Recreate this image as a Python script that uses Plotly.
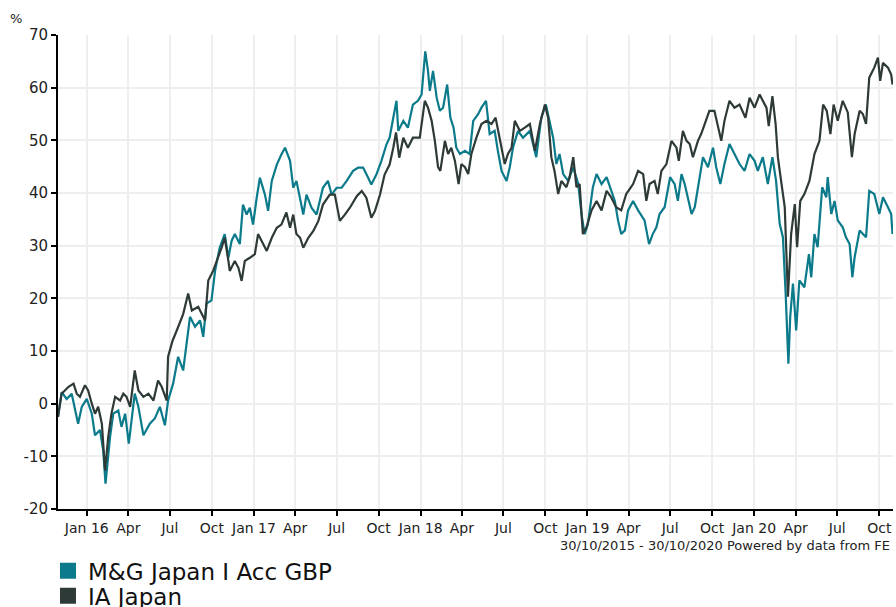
import plotly.graph_objects as go

# ---------------- data ----------------
mg_dates = [
    "2015-10-30", "2015-11-07", "2015-11-18", "2015-11-29", "2015-12-13", "2015-12-21", "2016-01-01",
    "2016-01-12", "2016-01-19", "2016-01-30", "2016-02-06", "2016-02-11", "2016-02-21", "2016-02-28",
    "2016-03-10", "2016-03-17", "2016-03-25", "2016-04-02", "2016-04-15", "2016-04-23", "2016-05-04",
    "2016-05-18", "2016-05-29", "2016-06-09", "2016-06-20", "2016-06-27", "2016-07-08", "2016-07-19",
    "2016-07-30", "2016-08-07", "2016-08-14", "2016-08-25", "2016-09-05", "2016-09-12", "2016-09-19",
    "2016-09-30", "2016-10-08", "2016-10-18", "2016-10-29", "2016-11-06", "2016-11-13", "2016-11-20",
    "2016-12-01", "2016-12-08", "2016-12-16", "2016-12-23", "2016-12-30", "2017-01-07", "2017-01-14",
    "2017-01-25", "2017-02-01", "2017-02-09", "2017-02-20", "2017-03-02", "2017-03-10", "2017-03-21",
    "2017-03-28", "2017-04-04", "2017-04-12", "2017-04-19", "2017-04-26", "2017-05-07", "2017-05-18",
    "2017-05-25", "2017-06-01", "2017-06-12", "2017-06-20", "2017-07-01", "2017-07-12", "2017-07-23",
    "2017-08-06", "2017-08-17", "2017-08-28", "2017-09-08", "2017-09-15", "2017-09-26", "2017-10-07",
    "2017-10-18", "2017-10-25", "2017-11-02", "2017-11-09", "2017-11-13", "2017-11-24", "2017-12-04",
    "2017-12-15", "2017-12-26", "2018-01-03", "2018-01-11", "2018-01-17", "2018-01-21", "2018-01-28",
    "2018-02-05", "2018-02-12", "2018-02-19", "2018-02-28", "2018-03-07", "2018-03-14", "2018-03-20",
    "2018-03-28", "2018-04-08", "2018-04-18", "2018-04-26", "2018-05-07", "2018-05-14", "2018-05-24",
    "2018-06-01", "2018-06-12", "2018-06-19", "2018-06-27", "2018-07-08", "2018-07-15", "2018-07-22",
    "2018-08-02", "2018-08-13", "2018-08-28", "2018-09-11", "2018-09-22", "2018-10-02", "2018-10-10",
    "2018-10-18", "2018-10-25", "2018-11-01", "2018-11-09", "2018-11-20", "2018-12-01", "2018-12-12",
    "2018-12-19", "2018-12-26", "2019-01-02", "2019-01-13", "2019-01-21", "2019-02-01", "2019-02-12",
    "2019-02-19", "2019-03-02", "2019-03-09", "2019-03-16", "2019-03-24", "2019-03-31", "2019-04-11",
    "2019-04-22", "2019-05-06", "2019-05-16", "2019-05-24", "2019-06-01", "2019-06-08", "2019-06-19",
    "2019-07-01", "2019-07-11", "2019-07-18", "2019-07-26", "2019-08-02", "2019-08-09", "2019-08-17",
    "2019-08-24", "2019-08-31", "2019-09-11", "2019-09-22", "2019-10-03", "2019-10-10", "2019-10-19",
    "2019-10-28", "2019-11-08", "2019-11-19", "2019-11-30", "2019-12-11", "2019-12-22", "2020-01-02",
    "2020-01-09", "2020-01-20", "2020-01-31", "2020-02-10", "2020-02-18", "2020-02-26", "2020-03-04",
    "2020-03-10", "2020-03-16", "2020-03-20", "2020-03-26", "2020-04-02", "2020-04-09", "2020-04-20",
    "2020-04-30", "2020-05-05", "2020-05-12", "2020-05-19", "2020-05-29", "2020-06-07", "2020-06-10",
    "2020-06-18", "2020-06-25", "2020-07-02", "2020-07-13", "2020-07-20", "2020-07-28", "2020-08-03",
    "2020-08-08", "2020-08-19", "2020-08-26", "2020-09-02", "2020-09-09", "2020-09-20", "2020-10-01",
    "2020-10-09", "2020-10-20", "2020-10-27", "2020-10-30",
]
mg_values = [
    -2.5, 2.2, 0.9, 1.9, -3.8, -0.6, 0.9,
    -1.9, -6.0, -5.0, -8.9, -15.2, -6.3, -1.9,
    -1.3, -4.4, -1.9, -7.6, 1.9, -0.6, -6.0,
    -3.8, -2.8, -0.6, -4.1, 0.6, 3.8, 8.9,
    6.3, 12.0, 16.5, 14.6, 15.8, 12.7, 19.0,
    19.6, 25.3, 29.6, 32.2, 27.7, 30.9, 32.2,
    30.3, 37.8, 35.9, 37.2, 34.0, 39.1, 42.9,
    39.7, 36.6, 42.3, 45.4, 47.3, 48.6, 46.1,
    41.0, 42.3, 38.5, 35.9, 39.7, 37.2, 35.9,
    38.5, 41.0, 42.3, 39.7, 41.0, 41.0, 42.3,
    44.2, 44.8, 44.8, 42.9, 41.6, 43.5, 46.1,
    49.2, 50.5, 54.3, 57.5, 51.8, 53.7, 52.4,
    56.8, 57.5, 58.7, 66.9, 63.2, 59.4, 63.2,
    58.1, 55.6, 56.2, 60.6, 54.3, 52.4, 48.6,
    47.4, 48.0, 47.4, 53.7, 55.0, 56.2, 57.5,
    51.2, 51.8, 48.0, 44.2, 42.3, 44.9, 48.6,
    51.8, 50.5, 51.8, 46.8, 54.3, 56.8, 53.7,
    50.5, 45.5, 47.4, 43.6, 42.3, 44.9, 41.7,
    36.0, 32.2, 34.1, 41.1, 43.6, 41.7, 43.0,
    41.1, 38.5, 34.8, 32.2, 32.9, 36.7, 38.5,
    36.7, 34.8, 30.3, 32.2, 33.5, 36.0, 37.3,
    43.0, 41.7, 38.5, 43.6, 41.7, 39.2, 36.0,
    37.3, 41.1, 46.8, 44.9, 48.6, 44.9, 41.7,
    45.5, 49.3, 47.4, 45.5, 44.2, 47.4, 46.1,
    44.2, 46.8, 41.7, 46.8, 42.3, 34.1, 31.6,
    20.9, 7.6, 16.5, 22.8, 13.9, 23.4, 22.1,
    28.4, 24.0, 32.2, 29.7, 41.1, 39.2, 43.0,
    36.0, 38.5, 34.8, 33.5, 31.6, 30.3, 24.0,
    27.8, 32.9, 32.2, 31.6, 40.4, 39.8, 36.0,
    39.2, 37.3, 36.0, 32.2,
]

ia_dates = [
    "2015-10-30", "2015-11-07", "2015-11-22", "2015-12-03", "2015-12-10", "2015-12-17", "2015-12-28",
    "2016-01-04", "2016-01-12", "2016-01-19", "2016-01-26", "2016-02-03", "2016-02-10", "2016-02-17",
    "2016-02-24", "2016-03-03", "2016-03-14", "2016-03-21", "2016-03-28", "2016-04-05", "2016-04-15",
    "2016-04-23", "2016-05-04", "2016-05-15", "2016-05-26", "2016-06-05", "2016-06-13", "2016-06-24",
    "2016-06-27", "2016-07-07", "2016-07-16", "2016-07-30", "2016-08-10", "2016-08-18", "2016-09-01",
    "2016-09-12", "2016-09-16", "2016-09-23", "2016-10-04", "2016-10-22", "2016-10-29", "2016-11-06",
    "2016-11-09", "2016-11-20", "2016-11-28", "2016-12-05", "2016-12-12", "2016-12-23", "2017-01-03",
    "2017-01-10", "2017-01-21", "2017-01-29", "2017-02-09", "2017-02-20", "2017-03-02", "2017-03-13",
    "2017-03-21", "2017-03-28", "2017-04-04", "2017-04-12", "2017-04-19", "2017-04-30", "2017-05-11",
    "2017-05-22", "2017-06-01", "2017-06-16", "2017-06-27", "2017-07-08", "2017-07-19", "2017-07-30",
    "2017-08-14", "2017-08-25", "2017-09-04", "2017-09-15", "2017-09-23", "2017-10-04", "2017-10-14",
    "2017-10-25", "2017-11-02", "2017-11-08", "2017-11-15", "2017-11-24", "2017-12-04", "2017-12-15",
    "2017-12-30", "2018-01-06", "2018-01-10", "2018-01-17", "2018-01-25", "2018-02-01", "2018-02-08",
    "2018-02-13", "2018-02-23", "2018-03-02", "2018-03-09", "2018-03-17", "2018-03-25", "2018-03-31",
    "2018-04-08", "2018-04-15", "2018-04-22", "2018-05-03", "2018-05-14", "2018-05-25", "2018-06-05",
    "2018-06-14", "2018-06-23", "2018-07-04", "2018-07-11", "2018-07-19", "2018-07-26", "2018-08-06",
    "2018-08-17", "2018-08-28", "2018-09-08", "2018-09-19", "2018-09-30", "2018-10-07", "2018-10-14",
    "2018-10-21", "2018-10-29", "2018-11-05", "2018-11-16", "2018-11-23", "2018-12-01", "2018-12-08",
    "2018-12-15", "2018-12-22", "2018-12-30", "2019-01-10", "2019-01-21", "2019-02-01", "2019-02-12",
    "2019-02-22", "2019-03-05", "2019-03-16", "2019-03-27", "2019-04-11", "2019-04-22", "2019-05-03",
    "2019-05-10", "2019-05-17", "2019-05-28", "2019-06-04", "2019-06-12", "2019-06-23", "2019-07-04",
    "2019-07-15", "2019-07-20", "2019-07-29", "2019-08-06", "2019-08-13", "2019-08-20", "2019-08-31",
    "2019-09-07", "2019-09-15", "2019-09-25", "2019-10-06", "2019-10-12", "2019-10-21", "2019-10-28",
    "2019-11-08", "2019-11-19", "2019-11-30", "2019-12-13", "2019-12-22", "2020-01-02", "2020-01-13",
    "2020-01-20", "2020-01-28", "2020-02-02", "2020-02-10", "2020-02-17", "2020-02-22", "2020-02-29",
    "2020-03-08", "2020-03-15", "2020-03-22", "2020-03-30", "2020-04-04", "2020-04-11", "2020-04-20",
    "2020-05-01", "2020-05-12", "2020-05-23", "2020-05-31", "2020-06-08", "2020-06-16", "2020-06-23",
    "2020-07-02", "2020-07-13", "2020-07-24", "2020-08-02", "2020-08-08", "2020-08-19", "2020-08-26",
    "2020-09-02", "2020-09-09", "2020-09-20", "2020-09-28", "2020-10-03", "2020-10-09", "2020-10-20",
    "2020-10-27", "2020-10-30",
]
ia_values = [
    -2.5, 1.9, 3.2, 3.8, 1.9, 1.3, 3.5,
    2.5, 0.0, -1.9, -0.6, -3.8, -12.7, -6.3,
    -1.9, 1.3, 0.6, 1.9, 1.3, -0.6, 6.3,
    2.5, 1.3, 1.9, 0.6, 4.4, 3.2, 0.6,
    8.9, 12.0, 13.9, 17.0, 20.9, 17.7, 18.4,
    16.5, 15.8, 23.4, 25.3, 29.6, 31.5, 27.1,
    25.2, 27.1, 25.8, 23.3, 27.1, 27.7, 28.4,
    32.2, 30.3, 29.0, 31.5, 33.4, 34.0, 36.3,
    33.4, 35.9, 32.2, 31.5, 29.6, 31.5, 32.8,
    34.7, 37.8, 39.7, 39.7, 34.7, 35.9, 37.2,
    39.4, 40.4, 39.1, 35.3, 36.6, 39.7, 43.5,
    45.4, 48.6, 51.5, 46.7, 50.5, 48.6, 50.5,
    50.5, 55.6, 57.5, 56.2, 53.7, 49.9, 44.9,
    44.2, 49.9, 47.4, 48.6, 46.1, 41.7, 45.5,
    44.9, 43.6, 47.4, 50.5, 53.1, 53.7, 53.1,
    54.3, 50.5, 45.5, 47.4, 48.6, 53.7, 51.8,
    52.4, 53.1, 48.0, 53.1, 56.8, 54.3, 46.8,
    44.2, 39.8, 42.3, 41.1, 43.0, 46.8, 41.1,
    41.7, 32.2, 33.5, 36.7, 38.5, 36.7, 40.4,
    39.2, 37.3, 36.7, 39.8, 41.7, 44.2, 43.6,
    38.5, 41.7, 42.3, 39.8, 44.2, 45.5, 49.9,
    48.6, 46.1, 51.8, 49.9, 49.3, 46.8, 49.9,
    51.2, 53.1, 55.6, 55.6, 53.1, 49.9, 53.7,
    57.5, 56.2, 56.8, 54.3, 58.1, 56.2, 58.7,
    57.5, 56.2, 52.7, 58.4, 53.1, 46.8, 42.3,
    37.3, 20.3, 32.2, 37.9, 29.7, 38.5, 39.8,
    42.3, 47.4, 49.9, 56.8, 55.6, 51.2, 56.8,
    53.7, 57.5, 55.3, 46.8, 51.2, 55.6, 55.0,
    53.1, 61.9, 63.8, 65.7, 61.3, 64.7, 63.8,
    62.5, 60.6,
]

series_names = ["M&G Japan I Acc GBP", "IA Japan"]
series_colors = ["#0b7a8a", "#2e3a37"]

tick_dates = [
    "2016-01-01", "2016-04-01", "2016-07-01", "2016-10-01",
    "2017-01-01", "2017-04-01", "2017-07-01", "2017-10-01",
    "2018-01-01", "2018-04-01", "2018-07-01", "2018-10-01",
    "2019-01-01", "2019-04-01", "2019-07-01", "2019-10-01",
    "2020-01-01", "2020-04-01", "2020-07-01", "2020-10-01",
]
tick_labels = [
    "Jan 16", "Apr", "Jul", "Oct",
    "Jan 17", "Apr", "Jul", "Oct",
    "Jan 18", "Apr", "Jul", "Oct",
    "Jan 19", "Apr", "Jul", "Oct",
    "Jan 20", "Apr", "Jul", "Oct",
]
y_ticks = [-20, -10, 0, 10, 20, 30, 40, 50, 60, 70]
y_tick_labels = [str(v) for v in y_ticks]

FONT = "DejaVu Sans, Verdana, sans-serif"

fig = go.Figure()
all_dates = [mg_dates, ia_dates]
all_values = [mg_values, ia_values]
for name, color, d, v in zip(series_names, series_colors, all_dates, all_values):
    fig.add_trace(go.Scatter(
        x=d, y=v, mode="lines", name=name,
        line=dict(color=color, width=2.2),
        showlegend=False, hoverinfo="x+y",
    ))
# legend entries with square swatches, one legend box per series
legend_ids = ["legend", "legend2"]
for name, color, lid in zip(series_names, series_colors, legend_ids):
    fig.add_trace(go.Scatter(
        x=[None], y=[None], mode="markers", name=name,
        marker=dict(symbol="square", size=16, color=color),
        showlegend=True, legend=lid,
    ))

legend_style = dict(
    orientation="v", xref="paper", yref="paper",
    xanchor="left", yanchor="top",
    font=dict(family=FONT, size=23, color="#111111"),
    itemsizing="trace", bgcolor="rgba(0,0,0,0)",
)

fig.update_layout(
    width=896, height=607,
    margin=dict(l=58, r=3, t=35, b=98, autoexpand=False),
    paper_bgcolor="white", plot_bgcolor="white",
    font=dict(family=FONT, color="#222222", size=13),
    showlegend=True,
    legend=dict(x=-0.012, y=-0.085, **legend_style),
    legend2=dict(x=-0.012, y=-0.138, **legend_style),
    xaxis=dict(
        type="date",
        range=["2015-10-30", "2020-10-31"],
        tickvals=tick_dates, ticktext=tick_labels,
        tickangle=0,
        showgrid=True, gridcolor="#eeeeee", gridwidth=2,
        showline=True, linecolor="black", linewidth=2,
        ticks="outside", tickcolor="black", ticklen=5, tickwidth=2,
        tickfont=dict(family=FONT, size=14, color="#222222"),
        zeroline=False,
    ),
    yaxis=dict(
        range=[-20, 70],
        tickvals=y_ticks, ticktext=y_tick_labels,
        showgrid=True, gridcolor="#eeeeee", gridwidth=2,
        showline=True, linecolor="black", linewidth=2,
        ticks="outside", tickcolor="black", ticklen=5, tickwidth=2,
        tickfont=dict(family=FONT, size=15, color="#222222"),
        zeroline=False,
    ),
    annotations=[
        dict(text="%", xref="paper", yref="paper", x=-0.06, y=1.015,
             xanchor="left", yanchor="bottom", showarrow=False,
             font=dict(family=FONT, size=13, color="#222222")),
        dict(text="30/10/2015 - 30/10/2020 Powered by data from FE",
             xref="paper", yref="paper", x=0.9985, y=-0.056,
             xanchor="right", yanchor="top", showarrow=False,
             font=dict(family=FONT, size=13, color="#222222")),
    ],
)

fig.write_html(
    "out.html",
    config={"displayModeBar": False},
    post_script="document.body.style.margin='0px';document.body.style.overflow='hidden';",
)
